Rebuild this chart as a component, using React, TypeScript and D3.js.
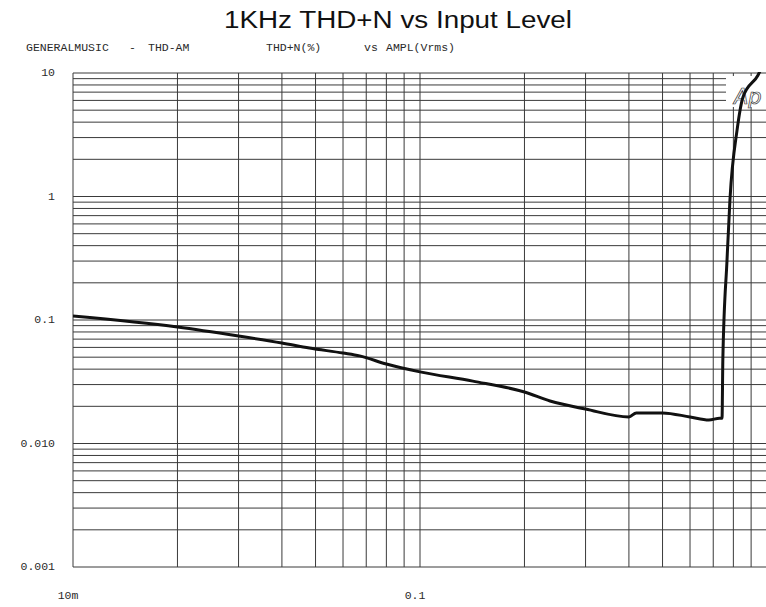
import * as d3 from "d3";

// Input level (Vrms) and THD+N (%)
const levelVrms = [0.01, 0.02, 0.03, 0.04, 0.048, 0.06, 0.067, 0.08, 0.1, 0.142, 0.2, 0.237, 0.3, 0.4, 0.42, 0.5, 0.6, 0.68, 0.73, 0.742, 0.746, 0.767, 0.782, 0.82, 0.853, 0.942, 0.965];
const thdPct = [0.1077, 0.0878, 0.0742, 0.0651, 0.0593, 0.054, 0.0512, 0.044, 0.038, 0.032, 0.0261, 0.0221, 0.019, 0.0164, 0.0177, 0.0177, 0.0164, 0.0155, 0.016, 0.016, 0.0477, 0.306, 0.94, 3.46, 6.4, 9.6, 11];

const yTickValues = [10, 1, 0.1, 0.01, 0.001];
const yTickLabels = ["10", "1", "0.1", "0.010", "0.001"];
const xTickValues = [0.01, 0.1];
const xTickLabels = ["10m", "0.1"];

const W = 766, H = 607;
const margin = { top: 73, right: -1, bottom: 40, left: 73 };

export default function App() {
  const x = d3.scaleLog().domain([0.01, 1]).range([margin.left, W - margin.right]);
  const y = d3.scaleLog().domain([0.001, 10]).range([H - margin.bottom, margin.top]);

  const xGrid: number[] = [];
  for (const dec of [0.01, 0.1]) for (let m = 1; m <= 9; m++) xGrid.push(dec * m);
  const yGrid: number[] = [];
  for (const dec of [0.001, 0.01, 0.1, 1]) for (let m = 1; m <= 9; m++) yGrid.push(dec * m);
  yGrid.push(10);

  const pts = levelVrms.map((v, i) => [v, thdPct[i]] as [number, number]);
  const line = d3.line<[number, number]>()
    .x(d => x(d[0]))
    .y(d => y(d[1]))
    .curve(d3.curveMonotoneX);

  const x0 = x(0.01), x1 = x(1), y0 = y(10), y1 = y(0.001);
  const mono = "'Liberation Mono', 'DejaVu Sans Mono', monospace";
  const grid = "#3a3a3a";

  return (
    <svg width={W} height={H} style={{ position: "absolute", left: 0, top: 0, background: "#fff" }}>
      <defs>
        <clipPath id="plot">
          <rect x={x0} y={y0 - 1} width={x1 - x0} height={y1 - y0 + 2} />
        </clipPath>
      </defs>
      <text x={398} y={28} textAnchor="middle" fontFamily="'Liberation Sans', Arial, sans-serif" fontSize={23}
        fill="#111" textLength={348} lengthAdjust="spacingAndGlyphs">
        1KHz THD+N vs Input Level
      </text>
      <g fontFamily={mono} fontSize={11.5} fill="#2a2a2a">
        <text x={26} y={51}>GENERALMUSIC</text>
        <text x={129} y={51}>-</text>
        <text x={148} y={51}>THD-AM</text>
        <text x={266} y={51}>THD+N(%)</text>
        <text x={364} y={51}>vs</text>
        <text x={386} y={51}>AMPL(Vrms)</text>
      </g>
      <g stroke={grid} strokeWidth={1}>
        {yGrid.map((v, i) => (
          <line key={"h" + i} x1={x0} x2={W} y1={y(v)} y2={y(v)} />
        ))}
        {xGrid.map((v, i) => (
          <line key={"v" + i} x1={x(v)} x2={x(v)} y1={y0} y2={y1} />
        ))}
      </g>
      <rect x={726} y={76} width={W - 726} height={31} fill="#fff" />
      <text x={734} y={104} fontFamily="'DejaVu Sans', sans-serif" fontStyle="italic" fontSize={21} fill="none" stroke="#333" strokeWidth={0.7}>
        Ap
      </text>
      <g fontFamily={mono} fontSize={11.5} fill="#2a2a2a">
        {yTickValues.map((v, i) => (
          <text key={"yl" + i} x={55} y={y(v)} textAnchor="end" dominantBaseline="middle">
            {yTickLabels[i]}
          </text>
        ))}
        {xTickValues.map((v, i) => (
          <text key={"xl" + i} x={x(v) - 5} y={599} textAnchor="middle">
            {xTickLabels[i]}
          </text>
        ))}
      </g>
      <path d={line(pts) ?? ""} fill="none" stroke="#111" strokeWidth={3} strokeLinejoin="round" clipPath="url(#plot)" />
    </svg>
  );
}
